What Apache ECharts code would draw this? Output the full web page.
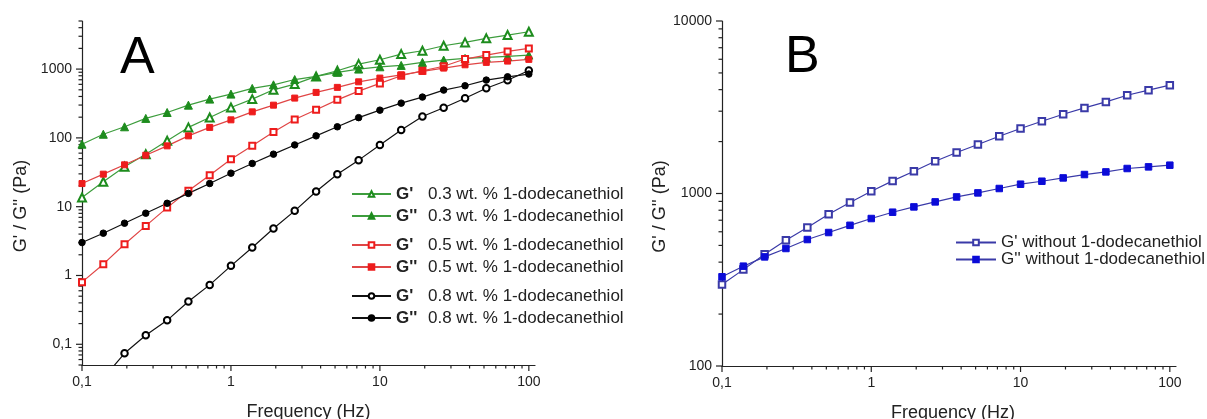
<!DOCTYPE html>
<html>
<head>
<meta charset="utf-8">
<script src="https://cdn.jsdelivr.net/npm/echarts@6.0.0/dist/echarts.min.js"></script>
<style>
  html, body { margin: 0; padding: 0; background: #fff; }
  #chart { width: 1207px; height: 419px; }
</style>
</head>
<body>
<div id="chart"></div>
<script>
// Oscillation frequency sweep (Hz), shared by every curve
const freq = [0.1, 0.139, 0.193, 0.268, 0.373, 0.518, 0.72, 1, 1.39, 1.93, 2.68,
              3.73, 5.18, 7.2, 10, 13.9, 19.3, 26.8, 37.3, 51.8, 72, 100];

// Panel A: storage (G') and loss (G'') moduli, Pa
const gp03  = [13.6, 23, 38, 58, 91, 142, 198, 277, 366, 500, 605,
               783, 945, 1182, 1366, 1652, 1846, 2182, 2445, 2797, 3124, 3490];
const gpp03 = [81, 113, 145, 192, 234, 299, 366, 433, 524, 591, 705,
               783, 896, 1000, 1080, 1132, 1251, 1352, 1431, 1480, 1530, 1598];
const gp05  = [0.8, 1.46, 2.85, 5.26, 9.7, 17, 28.7, 49, 76.6, 122, 185,
               256, 357, 479, 619, 800, 945, 1100, 1400, 1598, 1808, 2000];
const gpp05 = [21.7, 29.7, 40.6, 56, 76.6, 107, 142, 183, 239, 299, 379,
               458, 542, 653, 740, 826, 926, 1034, 1155, 1251, 1307, 1384];
const gp08  = [0.015, 0.032, 0.074, 0.135, 0.223, 0.418, 0.73, 1.38, 2.55, 4.82, 8.7,
               16.6, 29.7, 47.5, 79, 130, 205, 274, 377, 527, 688, 955];
const gpp08 = [3.01, 4.12, 5.75, 8.04, 11.2, 15.6, 21.7, 30.7, 42.5, 58, 79,
               107, 145, 197, 253, 320, 392, 495, 572, 692, 773, 846];

// Panel B: moduli without 1-dodecanethiol, Pa
const gpNone  = [297, 362, 445, 536, 635, 759, 887, 1031, 1183, 1346, 1539,
                 1729, 1923, 2149, 2382, 2624, 2882, 3134, 3395, 3713, 3970, 4246];
const gppNone = [329, 379, 429, 480, 541, 594, 654, 716, 779, 836, 894,
                 955, 1008, 1069, 1132, 1178, 1231, 1288, 1334, 1396, 1427, 1459];

// Axis ticks and their labels
const freqTicks = [0.1, 1, 10, 100];
const freqTickLabels = ['0,1', '1', '10', '100'];
const modATicks = [0.1, 1, 10, 100, 1000];
const modATickLabels = ['0,1', '1', '10', '100', '1000'];
const modBTicks = [100, 1000, 10000];
const modBTickLabels = ['100', '1000', '10000'];
const minorSteps = [2, 3, 4, 5, 6, 7, 8, 9];

const FONT = '"Liberation Sans", Arial, sans-serif';
const INK = '#222';

function labelFor(ticks, labels) {
  return function (v) {
    for (let i = 0; i < ticks.length; i++) {
      if (Math.abs(Math.log10(v) - Math.log10(ticks[i])) < 1e-6) return labels[i];
    }
    return '';
  };
}

// minor tick values inside [lo, hi] for decades starting at each major tick
function minorTicks(decades, lo, hi) {
  const out = [];
  decades.forEach(function (d) {
    minorSteps.forEach(function (s) {
      const v = d * s;
      if (v >= lo * 0.9999 && v <= hi * 1.0001) out.push(v);
    });
  });
  return out;
}

// tick marks drawn through the axes' own coordinate transform
function tickData(xMajor, xMinor, yMajor, yMinor, xMin, yMin) {
  const d = [];
  xMajor.forEach(v => d.push([v, yMin, 0, 6]));
  xMinor.forEach(v => d.push([v, yMin, 0, 3.5]));
  yMajor.forEach(v => d.push([xMin, v, 1, 6]));
  yMinor.forEach(v => d.push([xMin, v, 1, 3.5]));
  return d;
}

function tickSeries(idx, data) {
  return {
    type: 'custom', xAxisIndex: idx, yAxisIndex: idx, silent: true, clip: false,
    encode: { x: 0, y: 1 },
    data: data,
    renderItem: function (params, api) {
      const p = api.coord([api.value(0), api.value(1)]);
      const dir = api.value(2), len = api.value(3);
      const shape = dir === 0
        ? { x1: p[0], y1: p[1], x2: p[0], y2: p[1] + len }
        : { x1: p[0], y1: p[1], x2: p[0] - len, y2: p[1] };
      return { type: 'line', shape: shape, style: { stroke: INK, lineWidth: 1.2 } };
    }
  };
}

function curve(idx, name, values, symbol, size, color, lineColor) {
  return {
    type: 'line', name: name, xAxisIndex: idx, yAxisIndex: idx,
    data: freq.map((f, i) => [f, values[i]]),
    symbol: symbol, symbolSize: size, showSymbol: true, clip: true,
    itemStyle: { color: color, borderColor: color, borderWidth: 1 },
    lineStyle: { color: lineColor, width: 1.2 },
    emphasis: { disabled: true }, silent: true
  };
}

function logX(idx, ticks, labels) {
  return {
    type: 'log', gridIndex: idx, min: 0.1, max: 110, logBase: 10,
    name: 'Frequency (Hz)', nameLocation: 'middle', nameGap: 38,
    nameTextStyle: { fontSize: 18, color: INK, fontFamily: FONT,
                     padding: idx === 1 ? [0, 0, 0, 8] : [0, 0, 0, 0] },
    axisLine: { show: true, lineStyle: { color: INK, width: 1.2 } },
    axisTick: { show: false },
    splitLine: { show: false },
    axisLabel: { fontSize: 14, color: INK, fontFamily: FONT, margin: 10,
                 formatter: labelFor(ticks, labels) }
  };
}

function logY(idx, min, max, ticks, labels, gap) {
  return {
    type: 'log', gridIndex: idx, min: min, max: max, logBase: 10,
    name: "G' / G'' (Pa)", nameLocation: 'middle', nameGap: gap,
    nameTextStyle: { fontSize: 18, color: INK, fontFamily: FONT, padding: [0, 26, 0, 0] },
    axisLine: { show: true, lineStyle: { color: INK, width: 1.2 } },
    axisTick: { show: false },
    splitLine: { show: false },
    axisLabel: { fontSize: 14, color: INK, fontFamily: FONT, margin: 10,
                 formatter: labelFor(ticks, labels) }
  };
}

function legendA(top, names) {
  return {
    data: names, orient: 'vertical', left: 351, top: top, padding: 0,
    itemWidth: 39, itemHeight: 7, itemGap: 5, selectedMode: false,
    textStyle: {
      fontSize: 17, color: INK, fontFamily: FONT, lineHeight: 17,
      rich: {
        b: { fontWeight: 'bold', width: 32, fontSize: 17, fontFamily: FONT, color: INK },
        t: { fontSize: 17, fontFamily: FONT, color: INK }
      }
    },
    formatter: function (name) {
      const i = name.indexOf(' ');
      return '{b|' + name.slice(0, i) + '}{t|' + name.slice(i + 1) + '}';
    }
  };
}

const nG03 = "G' 0.3 wt. % 1-dodecanethiol", nGG03 = "G'' 0.3 wt. % 1-dodecanethiol";
const nG05 = "G' 0.5 wt. % 1-dodecanethiol", nGG05 = "G'' 0.5 wt. % 1-dodecanethiol";
const nG08 = "G' 0.8 wt. % 1-dodecanethiol", nGG08 = "G'' 0.8 wt. % 1-dodecanethiol";
const nGB = "G' without 1-dodecanethiol", nGGB = "G'' without 1-dodecanethiol";

const GREEN = '#1d8c1d', GREEN_LINE = '#3d9d3d';
const RED = '#ee1c1c', RED_LINE = '#e04545';
const BLUE = '#0b0bd8', BLUE_LINE = '#3a3aa8';

const chart = echarts.init(document.getElementById('chart'), null, { renderer: 'canvas' });
chart.setOption({
  animation: false,
  backgroundColor: '#fff',
  textStyle: { fontFamily: FONT },
  grid: [
    { left: 82, right: 672, top: 21, bottom: 54, outerBoundsMode: 'none', containLabel: false },
    { left: 722, right: 31, top: 21, bottom: 53, outerBoundsMode: 'none', containLabel: false }
  ],
  xAxis: [logX(0, freqTicks, freqTickLabels), logX(1, freqTicks, freqTickLabels)],
  yAxis: [logY(0, 0.05, 5000, modATicks, modATickLabels, 52),
          logY(1, 100, 10000, modBTicks, modBTickLabels, 48)],
  legend: [
    legendA(185.5, [nG03, nGG03]),
    legendA(236.5, [nG05, nGG05]),
    legendA(287.5, [nG08, nGG08]),
    {
      data: [nGB, nGGB], orient: 'vertical', left: 955, top: 234, padding: 0,
      itemWidth: 40, itemHeight: 7, itemGap: 0, selectedMode: false,
      textStyle: { fontSize: 17, color: INK, fontFamily: FONT, lineHeight: 15 }
    }
  ],
  graphic: [
    { type: 'text', left: 120, top: 33, silent: true,
      style: { text: 'A', font: '52px ' + FONT, fill: '#000' } },
    { type: 'text', left: 785, top: 32, silent: true,
      style: { text: 'B', font: '52px ' + FONT, fill: '#000' } }
  ],
  series: [
    tickSeries(0, tickData(freqTicks, minorTicks([0.1, 1, 10], 0.1, 110),
                           modATicks, minorTicks([0.01, 0.1, 1, 10, 100, 1000], 0.05, 5000), 0.1, 0.05)),
    tickSeries(1, tickData(freqTicks, minorTicks([0.1, 1, 10], 0.1, 110),
                           modBTicks, minorTicks([100, 1000], 100, 10000), 0.1, 100)),
    curve(0, nG03, gp03, 'emptyTriangle', 8, GREEN, GREEN_LINE),
    curve(0, nGG03, gpp03, 'triangle', 8, GREEN, GREEN_LINE),
    curve(0, nG05, gp05, 'emptyRect', 6, RED, RED_LINE),
    curve(0, nGG05, gpp05, 'rect', 6, RED, RED_LINE),
    curve(0, nG08, gp08, 'emptyCircle', 6.5, '#000', '#111'),
    curve(0, nGG08, gpp08, 'circle', 6.5, '#000', '#111'),
    curve(1, nGB, gpNone, 'emptyRect', 6.5, BLUE_LINE, BLUE_LINE),
    curve(1, nGGB, gppNone, 'rect', 6.5, BLUE, BLUE_LINE)
  ]
});
</script>
</body>
</html>
